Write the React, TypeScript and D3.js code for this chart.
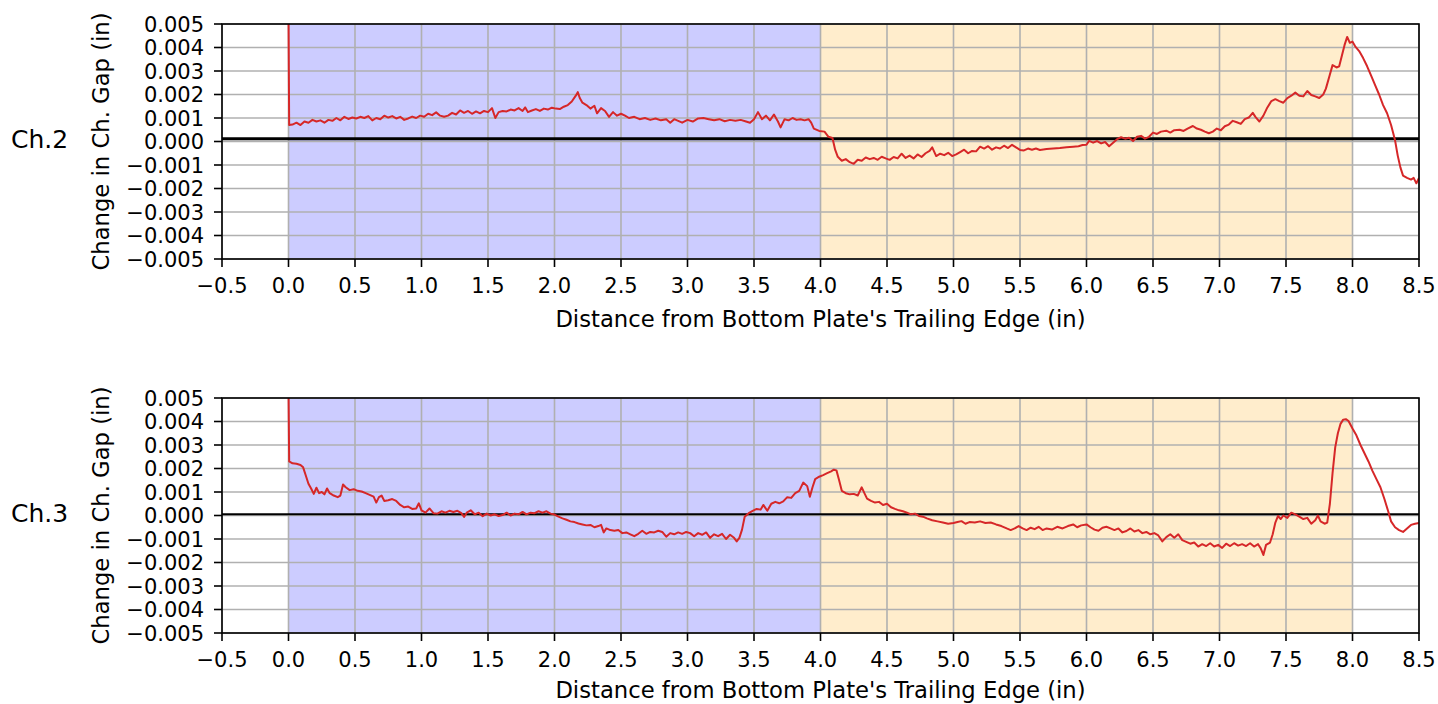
import React from 'react';
import * as d3 from 'd3';

// change in channel gap in thousandths of an inch (x 0.001 in)
const ch2Distance = [
  0.0, 0.005, 0.03, 0.06, 0.09, 0.12, 0.15, 0.18, 0.21, 0.24, 0.27, 0.3, 0.33, 0.36, 0.39, 0.42, 0.45, 0.48, 0.51, 0.54,
  0.57, 0.6, 0.63, 0.66, 0.69, 0.72, 0.75, 0.78, 0.81, 0.84, 0.87, 0.9, 0.93, 0.96, 0.99, 1.02, 1.05, 1.08, 1.11, 1.14,
  1.17, 1.2, 1.23, 1.26, 1.29, 1.32, 1.35, 1.38, 1.41, 1.44, 1.47, 1.5, 1.53, 1.555, 1.58, 1.61, 1.64, 1.67, 1.7, 1.73,
  1.76, 1.78, 1.8, 1.83, 1.86, 1.89, 1.92, 1.95, 1.98, 2.01, 2.04, 2.07, 2.1, 2.13, 2.16, 2.175, 2.19, 2.21, 2.24, 2.27,
  2.3, 2.32, 2.35, 2.38, 2.41, 2.44, 2.47, 2.5, 2.53, 2.56, 2.6, 2.64, 2.68, 2.72, 2.76, 2.8, 2.84, 2.87, 2.9, 2.93,
  2.96, 3.0, 3.04, 3.08, 3.12, 3.16, 3.2, 3.24, 3.28, 3.32, 3.36, 3.4, 3.44, 3.47, 3.5, 3.53, 3.56, 3.59, 3.62, 3.65,
  3.68, 3.7, 3.73, 3.76, 3.79, 3.82, 3.85, 3.88, 3.91, 3.93, 3.95, 3.99, 4.03, 4.06, 4.09, 4.11, 4.13, 4.16, 4.19, 4.22,
  4.25, 4.28, 4.31, 4.34, 4.37, 4.4, 4.43, 4.46, 4.49, 4.52, 4.55, 4.58, 4.61, 4.64, 4.67, 4.7, 4.73, 4.76, 4.79, 4.82,
  4.84, 4.87, 4.9, 4.93, 4.96, 4.99, 5.02, 5.05, 5.08, 5.11, 5.14, 5.17, 5.2, 5.23, 5.26, 5.29, 5.32, 5.35, 5.38, 5.41,
  5.44, 5.47, 5.5, 5.53, 5.56, 5.59, 5.62, 5.65, 5.7, 5.75, 5.8, 5.85, 5.9, 5.94, 5.97, 6.0, 6.02, 6.05, 6.08, 6.11,
  6.14, 6.17, 6.2, 6.23, 6.26, 6.29, 6.32, 6.35, 6.38, 6.41, 6.44, 6.47, 6.5, 6.53, 6.56, 6.6, 6.63, 6.66, 6.7, 6.73,
  6.76, 6.8, 6.83, 6.86, 6.89, 6.92, 6.95, 6.98, 7.01, 7.04, 7.07, 7.1, 7.13, 7.16, 7.19, 7.22, 7.25, 7.27, 7.3, 7.33,
  7.36, 7.39, 7.42, 7.45, 7.48, 7.51, 7.54, 7.57, 7.6, 7.63, 7.66, 7.69, 7.72, 7.75, 7.78, 7.8, 7.83, 7.85, 7.88, 7.9,
  7.92, 7.94, 7.96, 7.98, 8.0, 8.02, 8.05, 8.08, 8.11, 8.14, 8.17, 8.2, 8.23, 8.26, 8.29, 8.32, 8.34, 8.36, 8.38, 8.41,
  8.44, 8.46, 8.48, 8.5,
];
const ch2Gap = [
  5.5, 0.7, 0.72, 0.8, 0.7, 0.85, 0.8, 0.92, 0.85, 0.9, 0.8, 0.92, 0.88, 1.0, 0.9, 1.05, 0.96, 1.02, 0.98, 1.05,
  1.0, 1.08, 0.9, 1.0, 0.95, 1.1, 1.02, 1.08, 0.98, 1.05, 0.92, 0.98, 1.06, 1.0, 1.1, 1.05, 1.18, 1.12, 1.24, 1.1,
  1.05, 1.1, 1.22, 1.15, 1.32, 1.22, 1.3, 1.18, 1.28, 1.2, 1.3, 1.25, 1.42, 1.0, 1.25, 1.3, 1.28, 1.36, 1.32, 1.42,
  1.3, 1.45, 1.25, 1.32, 1.38, 1.3, 1.4, 1.36, 1.44, 1.4, 1.38, 1.48, 1.55, 1.7, 1.95, 2.1, 1.85, 1.65, 1.55, 1.4,
  1.52, 1.2, 1.42, 1.3, 1.05, 1.25, 1.1, 1.18, 1.1, 1.0, 1.05, 0.95, 1.0, 0.92, 0.98, 0.9, 0.95, 0.8, 0.95, 0.88,
  0.8, 0.92, 0.85, 0.98, 1.0, 0.95, 0.9, 0.95, 0.86, 0.92, 0.88, 0.92, 0.85, 0.8, 0.95, 1.25, 0.95, 1.1, 0.9, 1.15,
  0.85, 0.6, 0.95, 0.9, 1.0, 0.92, 0.95, 0.9, 0.95, 0.8, 0.55, 0.45, 0.42, 0.2, 0.15, -0.35, -0.65, -0.82, -0.75, -0.88,
  -0.95, -0.78, -0.82, -0.68, -0.75, -0.7, -0.78, -0.65, -0.72, -0.78, -0.66, -0.72, -0.52, -0.7, -0.6, -0.72, -0.55, -0.66, -0.5, -0.4,
  -0.25, -0.62, -0.52, -0.58, -0.48, -0.62, -0.55, -0.45, -0.35, -0.5, -0.4, -0.42, -0.22, -0.3, -0.2, -0.35, -0.25, -0.3, -0.18, -0.28,
  -0.14, -0.25, -0.36, -0.38, -0.3, -0.35, -0.3, -0.36, -0.32, -0.3, -0.28, -0.24, -0.22, -0.2, -0.15, -0.14, 0.03, -0.05, 0.02, -0.08,
  -0.02, -0.2, -0.05, 0.1, 0.18, 0.12, 0.16, 0.02, 0.2, 0.24, 0.12, 0.2, 0.38, 0.32, 0.42, 0.46, 0.38, 0.48, 0.5, 0.45,
  0.55, 0.66, 0.55, 0.5, 0.42, 0.35, 0.42, 0.55, 0.48, 0.65, 0.72, 0.88, 0.82, 0.75, 0.95, 1.02, 1.22, 1.05, 0.85, 1.1,
  1.45, 1.72, 1.8, 1.72, 1.65, 1.85, 1.95, 2.08, 1.95, 1.92, 2.15, 1.98, 1.92, 1.85, 2.0, 2.25, 2.85, 3.25, 3.15, 3.2,
  3.65, 4.1, 4.45, 4.2, 4.25, 4.05, 3.85, 3.55, 3.2, 2.8, 2.4, 2.0, 1.55, 1.2, 0.7, 0.05, -0.6, -1.1, -1.45, -1.55,
  -1.62, -1.55, -1.78, -1.55,
];

const ch3Distance = [
  0.0, 0.005, 0.03, 0.06, 0.09, 0.11, 0.13, 0.15, 0.17, 0.19, 0.21, 0.23, 0.25, 0.27, 0.29, 0.31, 0.34, 0.37, 0.39, 0.41,
  0.43, 0.46, 0.49, 0.52, 0.55, 0.58, 0.61, 0.64, 0.66, 0.68, 0.7, 0.72, 0.75, 0.78, 0.81, 0.84, 0.87, 0.9, 0.93, 0.96,
  0.98, 1.0, 1.03, 1.06, 1.09, 1.12, 1.15, 1.18, 1.21, 1.24, 1.27, 1.3, 1.32, 1.34, 1.37, 1.4, 1.43, 1.46, 1.49, 1.52,
  1.55, 1.58, 1.61, 1.64, 1.67, 1.7, 1.73, 1.76, 1.79, 1.82, 1.85, 1.88, 1.91, 1.94, 1.97, 2.0, 2.03, 2.06, 2.09, 2.12,
  2.15, 2.18, 2.21, 2.24, 2.27, 2.3, 2.33, 2.35, 2.37, 2.39, 2.42, 2.45, 2.48, 2.51, 2.54, 2.57, 2.6, 2.63, 2.66, 2.69,
  2.72, 2.75, 2.78, 2.81, 2.84, 2.87, 2.9, 2.93, 2.96, 2.99, 3.02, 3.05, 3.08, 3.11, 3.14, 3.17, 3.2, 3.23, 3.26, 3.29,
  3.32, 3.35, 3.37, 3.39, 3.41, 3.43, 3.46, 3.49, 3.52, 3.55, 3.57, 3.6, 3.63, 3.66, 3.69, 3.72, 3.75, 3.78, 3.81, 3.84,
  3.87, 3.9, 3.92, 3.94, 3.96, 3.99, 4.02, 4.05, 4.08, 4.1, 4.12, 4.14, 4.16, 4.19, 4.22, 4.25, 4.28, 4.31, 4.33, 4.35,
  4.38, 4.41, 4.44, 4.47, 4.5, 4.53, 4.56, 4.59, 4.62, 4.65, 4.68, 4.71, 4.74, 4.77, 4.8, 4.84, 4.88, 4.92, 4.96, 5.0,
  5.03, 5.06, 5.09, 5.12, 5.16, 5.2, 5.24, 5.28, 5.32, 5.36, 5.4, 5.43, 5.46, 5.49, 5.52, 5.55, 5.58, 5.61, 5.64, 5.67,
  5.7, 5.74, 5.78, 5.82, 5.86, 5.9, 5.93, 5.96, 6.0, 6.03, 6.06, 6.09, 6.12, 6.15, 6.18, 6.21, 6.24, 6.27, 6.3, 6.33,
  6.36, 6.39, 6.42, 6.45, 6.48, 6.51, 6.54, 6.57, 6.6, 6.63, 6.66, 6.69, 6.72, 6.75, 6.78, 6.81, 6.84, 6.87, 6.9, 6.93,
  6.96, 6.99, 7.02, 7.05, 7.08, 7.11, 7.14, 7.17, 7.2, 7.23, 7.26, 7.29, 7.31, 7.33, 7.35, 7.38, 7.4, 7.42, 7.44, 7.46,
  7.48, 7.51, 7.54, 7.57, 7.6, 7.63, 7.66, 7.69, 7.72, 7.74, 7.76, 7.79, 7.81, 7.83, 7.85, 7.87, 7.89, 7.91, 7.93, 7.95,
  7.97, 8.0, 8.03, 8.06, 8.09, 8.12, 8.15, 8.18, 8.21, 8.24, 8.27, 8.29, 8.32, 8.35, 8.38, 8.41, 8.44, 8.47, 8.5,
];
const ch3Gap = [
  5.5, 2.3, 2.22, 2.2, 2.15, 2.05, 1.7, 1.35, 1.15, 0.92, 1.18, 0.95, 1.0, 0.9, 1.15, 0.95, 0.85, 0.78, 0.85, 1.32,
  1.2, 1.08, 1.12, 1.05, 1.02, 0.95, 0.88, 0.8, 0.55, 0.78, 0.85, 0.62, 0.65, 0.7, 0.62, 0.45, 0.35, 0.38, 0.28, 0.3,
  0.52, 0.22, 0.12, 0.3, 0.1, 0.08, 0.18, 0.12, 0.2, 0.15, 0.2, 0.1, -0.06, 0.12, 0.22, 0.05, 0.12, -0.03, 0.08, 0.0,
  0.05, -0.02, 0.02, 0.12, 0.0, 0.08, 0.05, 0.15, 0.05, 0.12, 0.1, 0.18, 0.12, 0.18, 0.08, 0.04, -0.05, -0.12, -0.18, -0.25,
  -0.28, -0.34, -0.38, -0.42, -0.4, -0.5, -0.45, -0.4, -0.72, -0.55, -0.62, -0.65, -0.62, -0.75, -0.72, -0.8, -0.88, -0.78, -0.65, -0.78,
  -0.7, -0.72, -0.65, -0.7, -0.9, -0.75, -0.8, -0.72, -0.78, -0.7, -0.75, -0.88, -0.75, -0.82, -0.72, -0.95, -0.8, -0.88, -0.78, -1.0,
  -0.82, -0.95, -1.1, -0.95, -0.6, -0.05, 0.1, 0.2, 0.28, 0.25, 0.45, 0.2, 0.5, 0.58, 0.52, 0.6, 0.78, 0.75, 0.95, 1.05,
  1.4, 1.25, 0.8, 1.2, 1.55, 1.65, 1.72, 1.8, 1.88, 1.95, 1.92, 1.5, 1.05, 0.95, 0.9, 0.92, 0.85, 1.2, 0.95, 0.72,
  0.62, 0.55, 0.58, 0.45, 0.5, 0.35, 0.28, 0.22, 0.18, 0.12, 0.05, 0.08, -0.02, -0.05, -0.12, -0.2, -0.25, -0.3, -0.35, -0.32,
  -0.28, -0.24, -0.35, -0.28, -0.3, -0.25, -0.32, -0.3, -0.38, -0.45, -0.55, -0.62, -0.55, -0.45, -0.55, -0.62, -0.52, -0.58, -0.48, -0.62,
  -0.55, -0.6, -0.48, -0.55, -0.45, -0.38, -0.5, -0.42, -0.38, -0.5, -0.6, -0.65, -0.52, -0.48, -0.55, -0.62, -0.55, -0.72, -0.66, -0.55,
  -0.68, -0.62, -0.75, -0.7, -0.8, -0.75, -0.85, -1.1, -0.92, -0.8, -0.95, -0.8, -1.05, -1.12, -1.2, -1.15, -1.32, -1.22, -1.3, -1.18,
  -1.32, -1.25, -1.38, -1.2, -1.3, -1.18, -1.28, -1.22, -1.3, -1.18, -1.32, -1.22, -1.4, -1.68, -1.25, -1.15, -0.8, -0.3, -0.02, -0.15,
  0.0, -0.1, 0.12, 0.05, -0.05, -0.15, -0.1, -0.35, -0.2, 0.0, -0.25, -0.35, -0.3, 0.5, 1.8, 2.9, 3.5, 3.9, 4.08, 4.1,
  4.02, 3.7, 3.4, 3.0, 2.65, 2.3, 1.9, 1.55, 1.2, 0.7, 0.15, -0.25, -0.5, -0.62, -0.7, -0.55, -0.4, -0.35, -0.32,
];

const xTicks = [-0.5, 0, 0.5, 1, 1.5, 2, 2.5, 3, 3.5, 4, 4.5, 5, 5.5, 6, 6.5, 7, 7.5, 8, 8.5];
const yTicks = [-0.005, -0.004, -0.003, -0.002, -0.001, 0, 0.001, 0.002, 0.003, 0.004, 0.005];

// shaded zones along the plate (in)
const zoneStart = [0, 4];
const zoneEnd = [4, 8];
const zoneColor = ['#ccccff', '#ffedcc'];

const channelNames = ['Ch.2', 'Ch.3'];
const refLevel = [0.00012, 0.00005]; // black reference line height per channel
const refWidth = [3, 2];

const WIDTH = 1438;
const HEIGHT = 704;
const FONT = 'DejaVu Sans, sans-serif';

const fmt = (v: number, digits: number) => {
  const s = Math.abs(v).toFixed(digits);
  return v < 0 ? '\u2212' + s : s;
};

interface PanelProps {
  idx: number;
  top: number;
  dist: number[];
  gap: number[];
}

const Panel: React.FC<PanelProps> = ({ idx, top, dist, gap }) => {
  const left = 222;
  const right = 1419;
  const bottom = top + 235;

  const x = d3.scaleLinear().domain([-0.5, 8.5]).range([left, right]);
  const y = d3.scaleLinear().domain([-0.005, 0.005]).range([bottom, top]);

  const pts = dist.map((d, i) => [d, gap[i] / 1000] as [number, number]);
  const line = d3.line<[number, number]>()
    .x(d => x(d[0]))
    .y(d => y(d[1]));

  const clipId = `clip-${idx}`;
  // keep the x label's descenders inside the page
  const xLabelY = Math.min(bottom + 68, HEIGHT - 6);

  return (
    <g>
      <defs>
        <clipPath id={clipId}>
          <rect x={left} y={top} width={right - left} height={bottom - top} />
        </clipPath>
      </defs>

      {zoneStart.map((s, i) => (
        <rect key={i} x={x(s)} y={top} width={x(zoneEnd[i]) - x(s)} height={bottom - top} fill={zoneColor[i]} />
      ))}

      {/* grid */}
      {xTicks.map(t => (
        <line key={'gx' + t} x1={x(t)} x2={x(t)} y1={top} y2={bottom} stroke="#b0b0b0" strokeWidth={1.6} />
      ))}
      {yTicks.map(t => (
        <line key={'gy' + t} x1={left} x2={right} y1={y(t)} y2={y(t)} stroke="#b0b0b0" strokeWidth={1.6} />
      ))}

      <line x1={left} x2={right} y1={y(refLevel[idx])} y2={y(refLevel[idx])} stroke="#000" strokeWidth={refWidth[idx]} />

      <path d={line(pts) || ''} fill="none" stroke="#d62728" strokeWidth={2} strokeLinejoin="round" clipPath={`url(#${clipId})`} />

      {/* spines */}
      <rect x={left} y={top} width={right - left} height={bottom - top} fill="none" stroke="#000" strokeWidth={1.6} />

      {/* x axis */}
      {xTicks.map(t => (
        <g key={'tx' + t}>
          <line x1={x(t)} x2={x(t)} y1={bottom} y2={bottom + 8} stroke="#000" strokeWidth={1.6} />
          <text x={x(t)} y={bottom + 34} textAnchor="middle" fontSize={21} fontFamily={FONT} fill="#000">
            {fmt(t, 1)}
          </text>
        </g>
      ))}
      {/* y axis */}
      {yTicks.map(t => (
        <g key={'ty' + t}>
          <line x1={left - 8} x2={left} y1={y(t)} y2={y(t)} stroke="#000" strokeWidth={1.6} />
          <text x={left - 18} y={y(t) + 7.5} textAnchor="end" fontSize={21} fontFamily={FONT} fill="#000">
            {fmt(t, 3)}
          </text>
        </g>
      ))}

      <text x={(left + right) / 2} y={xLabelY} textAnchor="middle" fontSize={22.7} fontFamily={FONT} fill="#000">
        Distance from Bottom Plate's Trailing Edge (in)
      </text>
      <text
        transform={`translate(${109},${(top + bottom) / 2}) rotate(-90)`}
        textAnchor="middle"
        fontSize={22.7}
        fontFamily={FONT}
        fill="#000"
      >
        Change in Ch. Gap (in)
      </text>
      <text x={11} y={(top + bottom) / 2 + 6} fontSize={25} fontFamily={FONT} fill="#000">
        {channelNames[idx]}
      </text>
    </g>
  );
};

const App: React.FC = () => {
  return (
    <div style={{ position: 'absolute', left: 0, top: 0 }}>
      <svg width={WIDTH} height={HEIGHT} viewBox={`0 0 ${WIDTH} ${HEIGHT}`} style={{ display: 'block', background: '#fff' }}>
        <Panel idx={0} top={24} dist={ch2Distance} gap={ch2Gap} />
        <Panel idx={1} top={398} dist={ch3Distance} gap={ch3Gap} />
      </svg>
    </div>
  );
};

export default App;
